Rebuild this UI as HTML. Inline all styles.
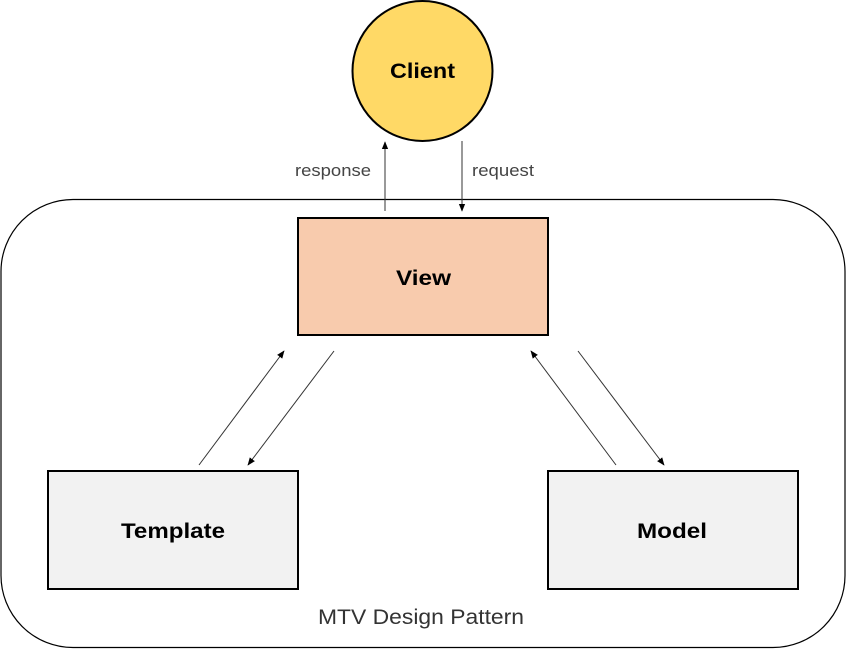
<!DOCTYPE html>
<html><head><style>body{margin:0;background:#fff}</style></head><body>
<svg width="846" height="649" xmlns="http://www.w3.org/2000/svg" font-family="Liberation Sans, sans-serif">
<defs><marker id="a" viewBox="0 0 10 10" refX="9" refY="5" markerWidth="8" markerHeight="8" orient="auto"><path d="M0,1 L10,5 L0,9 z" fill="#000"/></marker></defs>
<rect x="1" y="199.5" width="844" height="448" rx="72" fill="none" stroke="#000" stroke-width="1.2"/>
<circle cx="422.5" cy="71" r="70" fill="#ffd966" stroke="#000" stroke-width="2"/>
<text x="390" y="78" textLength="65" lengthAdjust="spacingAndGlyphs" font-size="21" font-weight="bold">Client</text>
<rect x="298" y="218" width="250" height="117" fill="#f8cbad" stroke="#000" stroke-width="2"/>
<text x="396" y="285" textLength="55" lengthAdjust="spacingAndGlyphs" font-size="21" font-weight="bold">View</text>
<rect x="48" y="471" width="250" height="118" fill="#f2f2f2" stroke="#000" stroke-width="2"/>
<text x="121" y="538" textLength="104" lengthAdjust="spacingAndGlyphs" font-size="21" font-weight="bold">Template</text>
<rect x="548" y="471" width="250" height="118" fill="#f2f2f2" stroke="#000" stroke-width="2"/>
<text x="637" y="538" textLength="70" lengthAdjust="spacingAndGlyphs" font-size="21" font-weight="bold">Model</text>
<g stroke="#333" stroke-width="1" marker-end="url(#a)">
<line x1="385" y1="211" x2="385" y2="142"/>
<line x1="462" y1="141" x2="462" y2="211"/>
<line x1="199" y1="465" x2="284" y2="351"/>
<line x1="334" y1="351" x2="248" y2="465"/>
<line x1="616" y1="465" x2="531" y2="351"/>
<line x1="578" y1="351" x2="664" y2="465"/>
</g>
<g font-size="17" fill="#444">
<text x="295" y="176" textLength="76" lengthAdjust="spacingAndGlyphs">response</text>
<text x="472" y="176" textLength="62" lengthAdjust="spacingAndGlyphs">request</text>
</g>
<text x="318" y="624" textLength="206" lengthAdjust="spacingAndGlyphs" font-size="21" fill="#333">MTV Design Pattern</text>
</svg>
</body></html>
